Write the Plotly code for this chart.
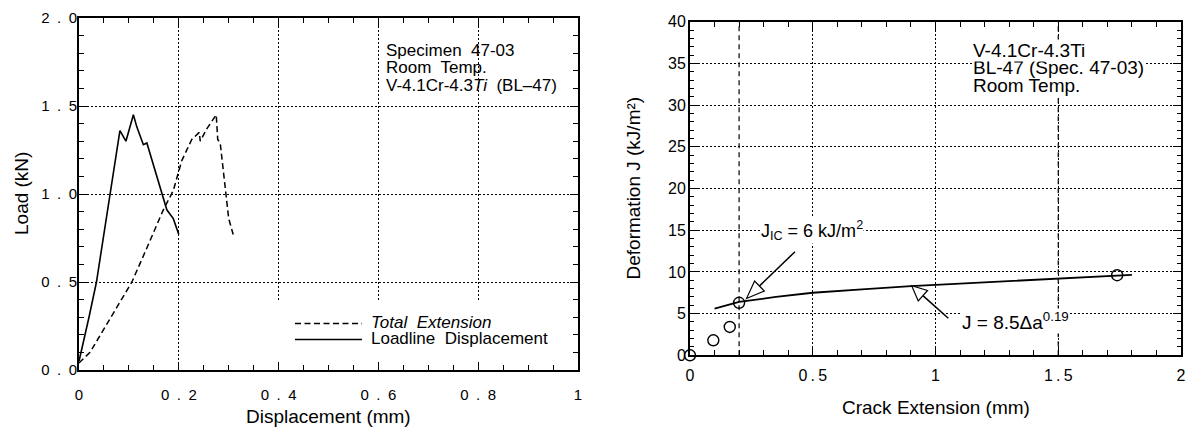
import plotly.graph_objects as go

# ---------------- data ----------------
# Left panel: load vs displacement
disp_total = [0.0, 0.022, 0.064, 0.106, 0.137, 0.169, 0.189, 0.206, 0.226, 0.241, 0.243, 0.256, 0.275, 0.278, 0.283, 0.292, 0.296, 0.300, 0.309]
load_total = [0.04, 0.10, 0.30, 0.50, 0.70, 0.91, 1.02, 1.19, 1.31, 1.35, 1.30, 1.37, 1.45, 1.31, 1.29, 1.06, 0.93, 0.86, 0.77]

disp_loadline = [0.0, 0.005, 0.020, 0.035, 0.062, 0.079, 0.082, 0.094, 0.109, 0.116, 0.129, 0.136, 0.162, 0.169, 0.176, 0.189, 0.200]
load_loadline = [0.05, 0.11, 0.30, 0.50, 1.00, 1.29, 1.36, 1.30, 1.45, 1.38, 1.28, 1.29, 1.04, 0.98, 0.91, 0.86, 0.77]

left_x_tickvals = [0, 0.2, 0.4, 0.6, 0.8, 1]
left_x_ticktext = ["0", "0\u2002.\u20022", "0\u2002.\u20024", "0\u2002.\u20026", "0\u2002.\u20028", "1"]
left_y_tickvals = [0, 0.5, 1.0, 1.5, 2.0]
left_y_ticktext = ["0\u2002.\u20020", "0\u2002.\u20025", "1\u2002.\u20020", "1\u2002.\u20025", "2\u2002.\u20020"]

# Right panel: J-R curve
crack_pts = [0.0, 0.095, 0.162, 0.20, 1.74]
J_pts = [0.0, 1.8, 3.4, 6.3, 9.6]
fit_da = [0.10, 0.20, 0.35, 0.50, 0.70, 0.90, 1.10, 1.30, 1.50, 1.65, 1.80]
fit_J = [5.6, 6.4, 7.0, 7.5, 7.9, 8.3, 8.6, 8.9, 9.15, 9.45, 9.65]
exclusion_x = [0.2, 1.5]

right_x_tickvals = [0, 0.5, 1, 1.5, 2]
right_x_ticktext = ["0", "0\u2009.\u20095", "1", "1\u2009.\u20095", "2"]
right_y_tickvals = [0, 5, 10, 15, 20, 25, 30, 35, 40]
right_y_ticktext = ["0", "5", "10", "15", "20", "25", "30", "35", "40"]

# ---------------- layout helpers ----------------
W, H = 1192, 429
FONT = "Liberation Sans, Arial, Helvetica, sans-serif"


def fx(x):
    return x / W


def fy(y):
    return 1 - y / H


L_X0, L_X1, L_Y0, L_Y1 = 79, 578, 370, 18      # pixel frame of left plot
R_X0, R_X1, R_Y0, R_Y1 = 690, 1181, 355.3, 21.7  # pixel frame of right plot

fig = go.Figure()

fig.add_trace(go.Scatter(x=disp_total, y=load_total, mode="lines", name="Total Extension",
                         line=dict(color="black", width=1.5, dash="6px,3.5px"),
                         xaxis="x", yaxis="y", showlegend=False))
fig.add_trace(go.Scatter(x=disp_loadline, y=load_loadline, mode="lines", name="Loadline Displacement",
                         line=dict(color="black", width=1.6),
                         xaxis="x", yaxis="y", showlegend=False))

fig.add_trace(go.Scatter(x=fit_da, y=fit_J, mode="lines", name="fit",
                         line=dict(color="black", width=1.8),
                         xaxis="x2", yaxis="y2", showlegend=False))
fig.add_trace(go.Scatter(x=crack_pts, y=J_pts, mode="markers", name="data",
                         marker=dict(symbol="circle-open", size=11, color="black", line=dict(width=1.4)),
                         cliponaxis=False, xaxis="x2", yaxis="y2", showlegend=False))


def axis(size, **kw):
    d = dict(
        automargin=False,
        showline=True, linecolor="black", linewidth=2, mirror="allticks",
        ticks="inside", ticklen=8, tickwidth=1.3, tickcolor="black",
        showgrid=True, gridcolor="black", gridwidth=1, griddash="2px,2px",
        zeroline=False, tickmode="array",
        tickfont=dict(family=FONT, size=size, color="black"),
    )
    d.update(kw)
    return d


fig.update_layout(
    template="none",
    width=W, height=H, autosize=False,
    margin=dict(l=0, r=0, t=0, b=0, pad=0),
    paper_bgcolor="white", plot_bgcolor="white",
    xaxis=axis(15, domain=[fx(L_X0), fx(L_X1)], range=[0, 1], anchor="y",
               tickvals=left_x_tickvals, ticktext=left_x_ticktext, ticklabelstandoff=10,
               minor=dict(dtick=0.05, ticks="inside", ticklen=5, tickwidth=1, tickcolor="black", showgrid=False)),
    yaxis=axis(15, domain=[fy(L_Y0), fy(L_Y1)], range=[0, 2], anchor="x",
               tickvals=left_y_tickvals, ticktext=left_y_ticktext, ticklabelstandoff=-3,
               minor=dict(dtick=0.1, ticks="inside", ticklen=5, tickwidth=1, tickcolor="black", showgrid=False)),
    xaxis2=axis(16, domain=[fx(R_X0), fx(R_X1)], range=[0, 2], anchor="y2",
                tickvals=right_x_tickvals, ticktext=right_x_ticktext, ticklabelstandoff=4,
                minor=dict(dtick=0.1, ticks="inside", ticklen=5, tickwidth=1, tickcolor="black", showgrid=False)),
    yaxis2=axis(16, domain=[fy(R_Y0), fy(R_Y1)], range=[0, 40], anchor="x2",
                tickvals=right_y_tickvals, ticktext=right_y_ticktext, ticklabelstandoff=-1,
                minor=dict(dtick=1, ticks="inside", ticklen=4, tickwidth=1, tickcolor="black", showgrid=False)),
)

shapes = []
# blank area behind the legend of the left panel (hides the grid), inset so axis ticks stay visible
shapes.append(dict(type="rect", xref="x", yref="y", x0=0.38, x1=0.983, y0=0.05, y1=0.39,
                   fillcolor="white", line=dict(width=0), layer="above"))
# legend samples
shapes.append(dict(type="line", xref="paper", yref="paper", x0=fx(295), x1=fx(362), y0=fy(323.5), y1=fy(323.5),
                   line=dict(color="black", width=1.5, dash="6px,3.5px")))
shapes.append(dict(type="line", xref="paper", yref="paper", x0=fx(295), x1=fx(362), y0=fy(339.5), y1=fy(339.5),
                   line=dict(color="black", width=1.6)))
# vertical exclusion lines on the right panel
for xv in exclusion_x:
    shapes.append(dict(type="line", xref="x2", yref="y2", x0=xv, x1=xv, y0=0, y1=40,
                       line=dict(color="black", width=1.2, dash="5px,4px")))


def open_arrow(tail, tip, head_len=16, half_w=7):
    (tx, ty), (hx, hy) = tail, tip
    dx, dy = tx - hx, ty - hy
    n = (dx * dx + dy * dy) ** 0.5
    ux, uy = dx / n, dy / n
    bx, by = hx + ux * head_len, hy + uy * head_len
    px_, py_ = -uy, ux
    c1 = (bx + px_ * half_w, by + py_ * half_w)
    c2 = (bx - px_ * half_w, by - py_ * half_w)
    out = [dict(type="line", xref="paper", yref="paper", x0=fx(tx), y0=fy(ty), x1=fx(bx), y1=fy(by),
                line=dict(color="black", width=1.5))]
    path = "M {:.5f},{:.5f} L {:.5f},{:.5f} L {:.5f},{:.5f} Z".format(
        fx(hx), fy(hy), fx(c1[0]), fy(c1[1]), fx(c2[0]), fy(c2[1]))
    out.append(dict(type="path", xref="paper", yref="paper", path=path, fillcolor="white",
                    line=dict(color="black", width=1.2)))
    return out


shapes += open_arrow((795, 251.7), (746.5, 298.5), head_len=18, half_w=7)
shapes += open_arrow((948.3, 318.3), (911.7, 285.7), head_len=15, half_w=7)
fig.update_layout(shapes=shapes)

ann = []


def text(xp, yp, s, size=17, anchor="left", angle=0, bg=None):
    d = dict(x=fx(xp), y=fy(yp), xref="paper", yref="paper", text=s, showarrow=False,
             xanchor=anchor, yanchor="middle", textangle=angle, borderpad=0,
             font=dict(family=FONT, size=size, color="black"))
    if bg:
        d["bgcolor"] = bg
    ann.append(d)


# left panel notes
text(385, 50, "Specimen  47-03")
text(385, 67.5, "Room  Temp.")
text(385, 85, "V-4.1Cr-4.3<i>Ti</i>  (BL\u201347)")
# legend text
text(370, 322.5, "<i>Total  Extension</i>")
text(370, 338.5, "Loadline  Displacement")
# right panel notes (drawn bottom-up so white backgrounds do not clip descenders)
text(972, 85, "Room Temp.", size=19, bg="white")
text(972, 67.5, "BL-47 (Spec. 47-03)", size=19, bg="white")
text(972, 50, "V-4.1Cr-4.3Ti", size=19, bg="white")
text(760, 230, "J<sub>IC</sub> = 6 kJ/m<sup>2</sup>", size=18, bg="white")
text(961, 321, "J = 8.5\u0394a<sup>0.19</sup>", size=19, bg="white")
# axis titles
text((L_X0 + L_X1) / 2, 416, "Displacement (mm)", size=19, anchor="center")
text(21, (L_Y0 + L_Y1) / 2, "Load (kN)", size=19, anchor="center", angle=-90)
text((R_X0 + R_X1) / 2, 407, "Crack Extension (mm)", size=19, anchor="center")
text(633, (R_Y0 + R_Y1) / 2, "Deformation J (kJ/m\u00b2)", size=19, anchor="center", angle=-90)

fig.update_layout(annotations=ann)

fig.write_html("out.html")
